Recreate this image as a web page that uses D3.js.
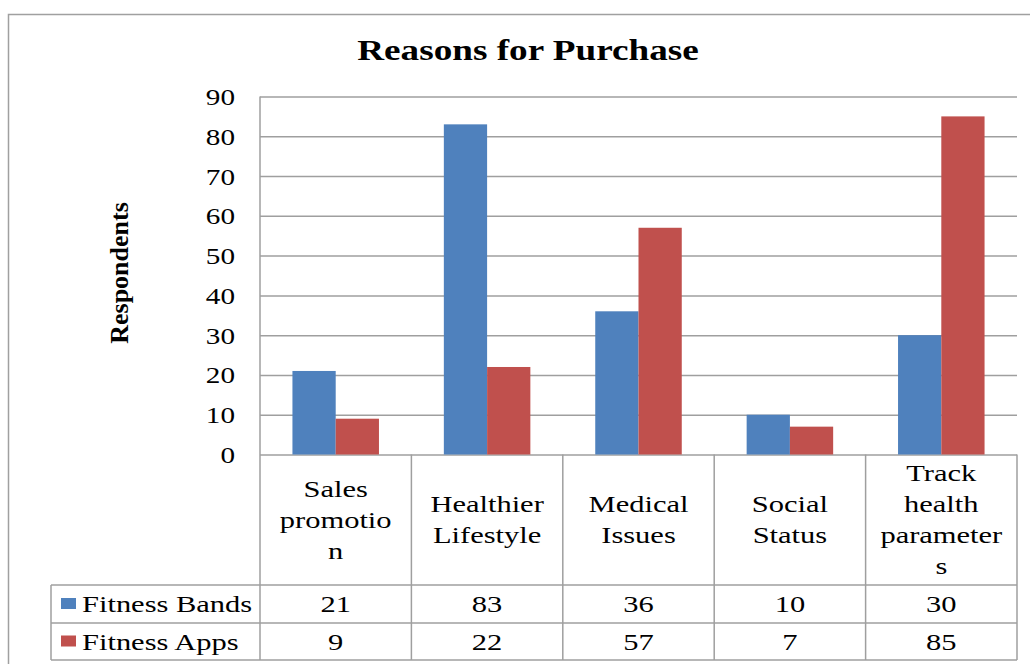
<!DOCTYPE html>
<html>
<head>
<meta charset="utf-8">
<script src="https://cdn.jsdelivr.net/npm/d3@7"></script>
<style>
  html, body { margin: 0; padding: 0; background: #fff; }
  svg { display: block; }
  text { font-family: "Liberation Serif", "Times New Roman", serif; fill: #000; }
</style>
</head>
<body>
<svg id="chart" width="1030" height="664"></svg>
<script>
// ---- data ----
const title = "Reasons for Purchase";
const yAxisTitle = "Respondents";
const categories = ["Sales promotion", "Healthier Lifestyle", "Medical Issues", "Social Status", "Track health parameters"];
const categoryLines = [["Sales", "promotio", "n"], ["Healthier", "Lifestyle"], ["Medical", "Issues"], ["Social", "Status"], ["Track", "health", "parameter", "s"]];
const seriesNames = ["Fitness Bands", "Fitness Apps"];
const fitnessBands = [21, 83, 36, 10, 30];
const fitnessApps = [9, 22, 57, 7, 85];
const yTicks = [0, 10, 20, 30, 40, 50, 60, 70, 80, 90];
const colors = ["#4F81BD", "#C0504D"];

const seriesValues = [fitnessBands, fitnessApps];

// ---- layout ----
const svg = d3.select("#chart");
const W = 1030, H = 664;
const plotL = 260, plotR = 1017, plotT = 96.5, plotB = 454.5;
const headerB = 585, row1B = 623, row2B = 660;
const legendL = 51;
const SX = 1.27; // horizontal text stretch of the original

const gridColor = "#9f9f9f";

// outer border
svg.append("rect").attr("x", 8.5).attr("y", 14.5).attr("width", 1040).attr("height", 700)
  .attr("fill", "none").attr("stroke", "#a0a0a0").attr("stroke-width", 1.5);

const x = d3.scaleBand().domain(categories).range([plotL, plotR]).padding(0);
const xs = d3.scaleBand().domain(seriesNames).range([0, x.bandwidth()]).paddingInner(0).paddingOuter(0.75);
const y = d3.scaleLinear().domain([0, 90]).range([plotB, plotT]);

function stretchedText(sel, px, py, str, opts) {
  opts = opts || {};
  return sel.append("text")
    .attr("transform", `translate(${px},${py}) scale(${opts.sx || SX},1)`)
    .attr("text-anchor", opts.anchor || "middle")
    .attr("font-size", opts.size || 24)
    .attr("font-weight", opts.weight || "normal")
    .text(str);
}

// gridlines + y axis via d3 axis
const yAxis = d3.axisLeft(y).tickValues(yTicks).tickSize(-(plotR - plotL)).tickFormat(d3.format("d"));
const gy = svg.append("g").attr("transform", `translate(${plotL},0)`).call(yAxis);
gy.select(".domain").remove();
gy.selectAll(".tick line").attr("stroke", gridColor).attr("stroke-width", 1.5);
gy.selectAll(".tick text")
  .attr("x", null).attr("dy", null)
  .attr("transform", `translate(-25,8) scale(${SX},1)`)
  .attr("text-anchor", "end")
  .attr("font-family", "Liberation Serif, Times New Roman, serif")
  .attr("font-size", 23)
  .attr("fill", "#000");

// bars
const gBars = svg.append("g");
seriesNames.forEach((s, si) => {
  gBars.selectAll(null).data(seriesValues[si]).enter().append("rect")
    .attr("x", (d, i) => x(categories[i]) + xs(s))
    .attr("y", d => y(d))
    .attr("width", xs.bandwidth())
    .attr("height", d => y(0) - y(d))
    .attr("fill", colors[si]);
});

// y axis line (extends through table)
svg.append("line").attr("x1", plotL).attr("x2", plotL).attr("y1", plotT).attr("y2", row2B)
  .attr("stroke", gridColor).attr("stroke-width", 1.5);

// data table lines
const tbl = svg.append("g").attr("stroke", gridColor).attr("stroke-width", 1.5);
[headerB, row1B, row2B].forEach(yy => {
  tbl.append("line").attr("x1", legendL).attr("x2", plotR).attr("y1", yy).attr("y2", yy);
});
tbl.append("line").attr("x1", legendL).attr("x2", legendL).attr("y1", headerB).attr("y2", row2B);
categories.forEach(c => {
  tbl.append("line").attr("x1", x(c) + x.bandwidth()).attr("x2", x(c) + x.bandwidth()).attr("y1", plotB).attr("y2", row2B);
});

// category headers
const headerMid = (plotB + headerB) / 2;
const lineH = 31;
categories.forEach((c, i) => {
  const lines = categoryLines[i];
  const cx = x(c) + x.bandwidth() / 2;
  lines.forEach((ln, li) => {
    const cy = headerMid + (li - (lines.length - 1) / 2) * lineH + 8;
    stretchedText(svg, cx, cy, ln, {size: 24});
  });
});

// value rows + legend keys
const rowMids = [(headerB + row1B) / 2, (row1B + row2B) / 2];
seriesNames.forEach((s, si) => {
  const my = rowMids[si];
  svg.append("rect").attr("x", 61).attr("y", my - 6).attr("width", 15).attr("height", 11).attr("fill", colors[si]);
  stretchedText(svg, 82, my + 8, s, {size: 24, anchor: "start"});
  seriesValues[si].forEach((v, i) => {
    stretchedText(svg, x(categories[i]) + x.bandwidth() / 2, my + 8, String(v), {size: 24});
  });
});

// title
stretchedText(svg, 528, 60, title, {size: 30, weight: "bold", sx: 1.24});

// y axis title
svg.append("text")
  .attr("transform", `translate(128,273) rotate(-90)`)
  .attr("text-anchor", "middle")
  .attr("font-size", 26)
  .attr("font-weight", "bold")
  .text(yAxisTitle);
</script>
</body>
</html>
